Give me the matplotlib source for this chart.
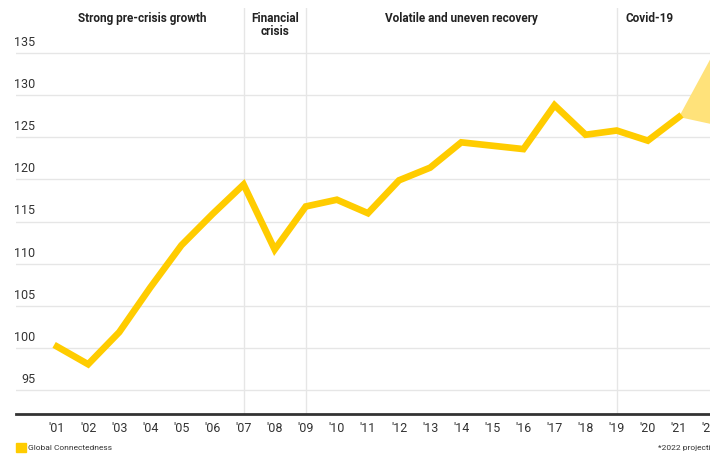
import matplotlib.pyplot as plt
from matplotlib.transforms import blended_transform_factory
from matplotlib.patches import Rectangle

# Global Connectedness index
years = list(range(2001, 2022))
index = [100.2, 98.1, 101.9, 107.2, 112.2, 115.9, 119.4, 111.7, 116.8, 117.6,
         116.0, 119.9, 121.4, 124.4, 124.0, 123.6, 128.8, 125.3, 125.8, 124.6,
         127.4]
proj_year = 2022
proj_low, proj_high = 126.6, 134.2

yticks = [95, 100, 105, 110, 115, 120, 125, 130, 135]
xlabels = ["'%02d" % (y % 100) for y in years + [proj_year]]

phase_lines = [2007, 2009, 2019]
phase_labels = ["Strong pre-crisis growth", "Financial\ncrisis",
                "Volatile and uneven recovery", "Covid-19"]
phase_x = [2003.73, 2008.0, 2014.0, 2020.05]

yellow = '#FFCC00'
fan = '#FFE27A'
plt.rcParams['font.family'] = ['Roboto', 'DejaVu Sans']

fig = plt.figure(figsize=(7.1, 4.54), dpi=100)
ax = fig.add_axes([0.0225, 0.088, 0.9775, 0.894])
ax.set_xlim(1999.68, 2022.0)
ax.set_ylim(92.2, 140.3)

# grid and phase separators
for v in yticks:
    ax.axhline(v, color='#e6e6e6', lw=1, zorder=0)
for x in phase_lines:
    ax.axvline(x, color='#e6e6e6', lw=1, zorder=0)

ax.fill([years[-1], proj_year, proj_year], [index[-1], proj_high, proj_low],
        color=fan, lw=0, zorder=2)
ax.plot(years, index, color=yellow, lw=4.8, solid_joinstyle='miter', zorder=3)

for s in ['top', 'right', 'left']:
    ax.spines[s].set_visible(False)
ax.spines['bottom'].set_color('#333333')
ax.spines['bottom'].set_linewidth(2)
ax.set_yticks([])
ax.set_xticks(years + [proj_year])
ax.set_xticklabels(xlabels, fontsize=9, color='#333333')
ax.tick_params(axis='x', length=0, pad=6)

# y labels sit above their gridlines
tr = blended_transform_factory(ax.transAxes, ax.transData)
for v in yticks:
    ax.text(0.028, v + 0.5, str(v), transform=tr, ha='right', va='bottom',
            fontsize=9, color='#333333')

for lab, x in zip(phase_labels, phase_x):
    ax.text(x, 139.8, lab, ha='center', va='top', fontsize=8.5,
            fontweight='bold', color='#222222', linespacing=1.0)

fig.patches.append(Rectangle((16 / 710, 2 / 454), 10 / 710, 9 / 454,
                             transform=fig.transFigure, color=yellow))
fig.text(28 / 710, 6 / 454, 'Global Connectedness', fontsize=6,
         va='center', color='#333333')
fig.text(658 / 710, 6 / 454, '*2022 projection', fontsize=6,
         va='center', color='#333333')

fig.savefig('out.png', dpi=100)
